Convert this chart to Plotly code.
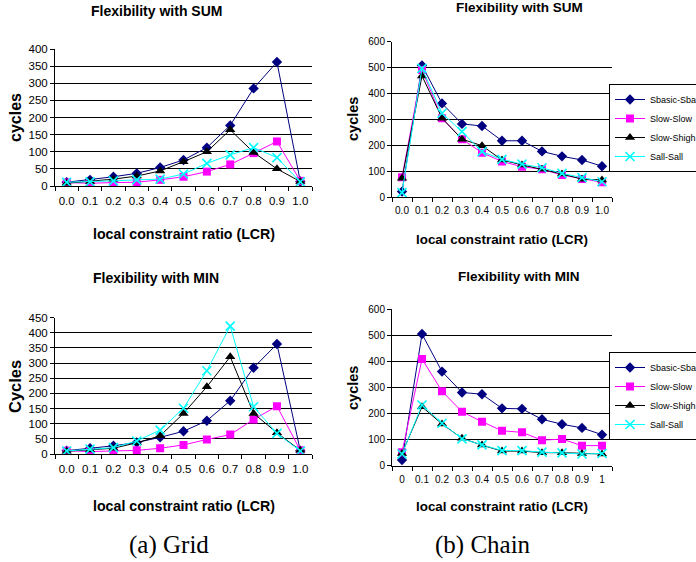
import plotly.graph_objects as go

W, H = 696, 562
F = "Liberation Sans, Arial, sans-serif"
SERIF = "Liberation Serif, Times New Roman, serif"

lcr_a = ["0.0", "0.1", "0.2", "0.3", "0.4", "0.5", "0.6", "0.7", "0.8", "0.9", "1.0"]
lcr_b = ["0", "0.1", "0.2", "0.3", "0.4", "0.5", "0.6", "0.7", "0.8", "0.9", "1"]

series_names = ["Sbasic-Sbasic", "Slow-Slow", "Slow-Shigh", "Sall-Sall"]

# (a) Grid, SUM
grid_sum_sbasic = [11, 18, 27, 37, 54, 76, 112, 177, 285, 362, 13]
grid_sum_slow = [10, 8, 10, 11, 18, 27, 42, 63, 96, 130, 15]
grid_sum_shigh = [8, 13, 20, 29, 44, 71, 100, 164, 98, 50, 13]
grid_sum_sall = [11, 12, 15, 18, 20, 35, 66, 91, 112, 83, 12]

# (a) Grid, MIN
grid_min_sbasic = [11, 19, 27, 38, 55, 75, 110, 176, 285, 363, 11]
grid_min_slow = [11, 8, 10, 12, 19, 30, 48, 64, 114, 158, 12]
grid_min_shigh = [9, 13, 19, 37, 60, 134, 222, 321, 134, 70, 12]
grid_min_sall = [10, 16, 21, 43, 79, 151, 275, 422, 156, 68, 10]

# (b) Chain, SUM
chain_sum_sbasic = [22, 508, 362, 283, 275, 218, 218, 177, 158, 144, 120]
chain_sum_slow = [77, 491, 305, 224, 172, 138, 118, 108, 86, 71, 58]
chain_sum_shigh = [73, 468, 305, 224, 199, 144, 125, 108, 90, 70, 67]
chain_sum_sall = [18, 497, 324, 253, 176, 146, 128, 114, 92, 76, 60]

# (b) Chain, MIN
chain_min_sbasic = [22, 505, 361, 281, 274, 220, 218, 178, 159, 145, 119]
chain_min_slow = [52, 409, 286, 207, 169, 134, 128, 98, 102, 77, 77]
chain_min_shigh = [47, 226, 160, 105, 79, 56, 56, 50, 50, 47, 45]
chain_min_sall = [45, 233, 163, 103, 80, 58, 58, 52, 49, 45, 47]

styles = [
    dict(color="#000080", symbol="diamond", size=8),
    dict(color="#FF00FF", symbol="square", size=8),
    dict(color="#000000", symbol="triangle-up", size=9),
    dict(color="#00FFFF", symbol="x-thin", size=9),
]

fig = go.Figure()


def add_panel(xcats, ys, xa, ya, legend=None):
    for name, y, st in zip(series_names, ys, styles):
        if st["symbol"] == "x-thin":
            marker = dict(symbol="x-thin", size=st["size"],
                          line=dict(color=st["color"], width=1.6), color=st["color"])
        else:
            marker = dict(symbol=st["symbol"], size=st["size"], color=st["color"],
                          line=dict(width=0))
        fig.add_trace(go.Scatter(
            x=xcats, y=y, name=name, mode="lines+markers",
            line=dict(color=st["color"], width=1), marker=marker,
            xaxis=xa, yaxis=ya, showlegend=legend is not None,
            legend=legend if legend else "legend"))


add_panel(lcr_a, [grid_sum_sbasic, grid_sum_slow, grid_sum_shigh, grid_sum_sall], "x", "y")
add_panel(lcr_a, [chain_sum_sbasic, chain_sum_slow, chain_sum_shigh, chain_sum_sall], "x2", "y2", "legend")
add_panel(lcr_a, [grid_min_sbasic, grid_min_slow, grid_min_shigh, grid_min_sall], "x3", "y3")
add_panel(lcr_b, [chain_min_sbasic, chain_min_slow, chain_min_shigh, chain_min_sall], "x4", "y4", "legend2")


def px_x(x0, x1):
    return [x0 / W, x1 / W]


def px_y(top, bottom):
    return [1 - bottom / H, 1 - top / H]


def xax(dom, anchor, fs, standoff):
    return dict(domain=dom, anchor=anchor, type="category", tickson="boundaries",
                ticks="outside", ticklen=4, tickcolor="black", tickwidth=1,
                showline=True, linecolor="black", linewidth=1, showgrid=False,
                range=[-0.5, 10.5], tickangle=0,
                tickfont=dict(family=F, size=fs, color="#000000"),
                ticklabelstandoff=standoff, fixedrange=True)


def yax(dom, anchor, ymax, dtick, fs):
    return dict(domain=dom, anchor=anchor, range=[0, ymax], dtick=dtick, tick0=0,
                ticks="outside", ticklen=4, tickcolor="black", tickwidth=1,
                showline=True, linecolor="black", linewidth=1, showgrid=True,
                gridcolor="#000000", gridwidth=1, zeroline=False,
                tickfont=dict(family=F, size=fs, color="#000000"), fixedrange=True)


annotations = []


def ann(text, x, y, size, bold=True, angle=0, family=F):
    annotations.append(dict(
        text=f"<b>{text}</b>" if bold else text, x=x / W, y=1 - y / H,
        xref="paper", yref="paper", showarrow=False, textangle=angle,
        xanchor="center", yanchor="middle",
        font=dict(family=family, size=size, color="#000000")))


# titles
ann("Flexibility with SUM", 156, 11, 14)
ann("Flexibility with MIN", 156, 278, 14)
ann("Flexibility with SUM", 519, 8, 13.5)
ann("Flexibility with MIN", 519, 276, 13.5)
# x titles
ann("local constraint ratio (LCR)", 184, 234, 14.2)
ann("local constraint ratio (LCR)", 184, 506, 14.2)
ann("local constraint ratio (LCR)", 502, 239, 13.4)
ann("local constraint ratio (LCR)", 502, 506, 13.4)
# y titles
ann("cycles", 15, 118, 16, angle=-90)
ann("Cycles", 15, 387, 16.5, angle=-90)
ann("cycles", 353, 119, 14.5, angle=-90)
ann("cycles", 353, 388, 14.5, angle=-90)
# captions
ann("(a) Grid", 169, 545, 25, bold=False, family=SERIF)
ann("(b) Chain", 483, 545, 25, bold=False, family=SERIF)

leg_common = dict(xanchor="left", yanchor="top", bordercolor="#000000", borderwidth=1,
                  bgcolor="#FFFFFF", font=dict(family=F, size=9, color="#000000"),
                  tracegroupgap=0)

fig.update_layout(
    width=W, height=H, autosize=False,
    margin=dict(l=0, r=0, t=0, b=0, autoexpand=False),
    paper_bgcolor="#FFFFFF", plot_bgcolor="#FFFFFF",
    xaxis=xax(px_x(55, 312), "y", 11.5, 4),
    yaxis=yax(px_y(49, 186), "x", 400, 50, 11.5),
    xaxis2=xax(px_x(392, 612), "y2", 10, 4),
    yaxis2=yax(px_y(41.7, 197.3), "x2", 600, 100, 10),
    xaxis3=xax(px_x(55, 312), "y3", 11.5, 4),
    yaxis3=yax(px_y(317.7, 454), "x3", 450, 50, 11.5),
    xaxis4=xax(px_x(392, 612), "y4", 10, 4),
    yaxis4=yax(px_y(309.3, 465.7), "x4", 600, 100, 10),
    legend=dict(x=609 / W, y=1 - 84 / H, **leg_common),
    legend2=dict(x=609 / W, y=1 - 352 / H, **leg_common),
    annotations=annotations,
    showlegend=True,
)

fig.write_html("out.html", config={"displayModeBar": False},
               post_script="document.body.style.margin='0px';")
